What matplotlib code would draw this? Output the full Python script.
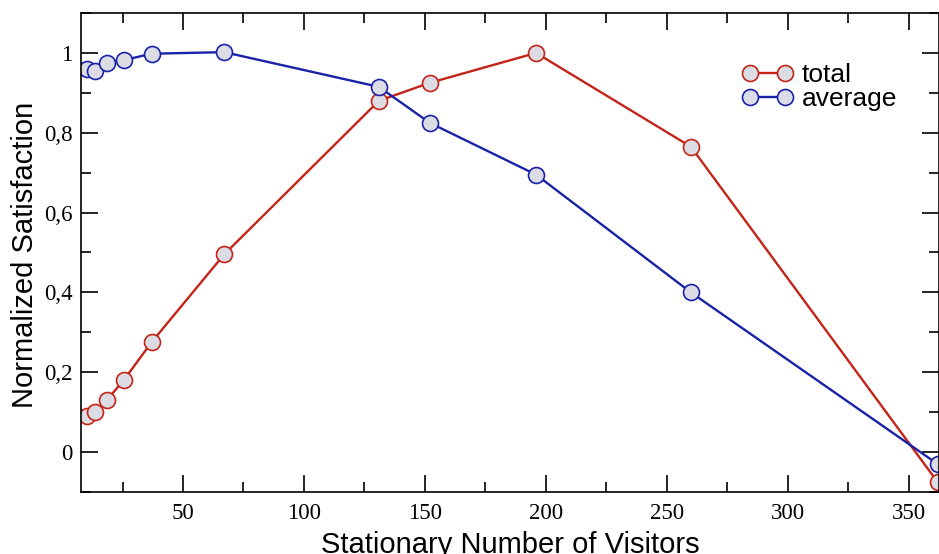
import matplotlib
matplotlib.use("Agg")
import matplotlib.pyplot as plt
from matplotlib.ticker import MultipleLocator, FuncFormatter

# Stationary number of visitors and normalized satisfaction
visitors = [10.5, 13.5, 18.5, 25.5, 37, 67, 131, 152, 196, 260, 362]
total = [0.09, 0.10, 0.13, 0.18, 0.275, 0.495, 0.88, 0.925, 1.0, 0.765, -0.075]
average = [0.96, 0.955, 0.975, 0.982, 0.998, 1.002, 0.915, 0.825, 0.695, 0.40, -0.03]

red = "#c42418"
blue = "#1a22a8"
face = "#dcdce4"


def comma_fmt(v, pos):
    if abs(v) < 1e-9:
        return "0"
    return f"{v:.1f}".rstrip("0").rstrip(".").replace(".", ",")


fig = plt.figure(figsize=(9.39, 5.54), dpi=100)
ax = fig.add_axes([0.0863, 0.112, 0.9137, 0.8645])

ax.plot(visitors, total, color=red, lw=1.7, marker="o", ms=11.5,
        mfc=face, mec=red, mew=1.2, label="total")
ax.plot(visitors, average, color=blue, lw=1.7, marker="o", ms=11.5,
        mfc=face, mec=blue, mew=1.2, label="average")

ax.set_xlim(7.85, 362.6)
ax.set_ylim(-0.1, 1.1)

ax.xaxis.set_major_locator(MultipleLocator(50))
ax.xaxis.set_minor_locator(MultipleLocator(25))
ax.yaxis.set_major_locator(MultipleLocator(0.2))
ax.yaxis.set_minor_locator(MultipleLocator(0.1))
ax.yaxis.set_major_formatter(FuncFormatter(comma_fmt))

ax.tick_params(which="both", direction="in", top=True, right=True, width=1.2)
ax.tick_params(which="major", length=12, pad=6)
ax.tick_params(axis="x", which="major", pad=8)
ax.tick_params(which="minor", length=7)
for lab in ax.get_xticklabels() + ax.get_yticklabels():
    lab.set_family("Liberation Serif")
    lab.set_fontsize(16.5)
for sp in ax.spines.values():
    sp.set_linewidth(1.2)

ax.set_xlabel("Stationary Number of Visitors", family="Liberation Sans", fontsize=21, labelpad=5)
ax.set_ylabel("Normalized Satisfaction", family="Liberation Sans", fontsize=21)
ax.yaxis.set_label_coords(-0.049, 0.496)

ax.legend(loc="upper left", bbox_to_anchor=(0.77, 0.895), frameon=False, numpoints=2,
          borderaxespad=0, borderpad=0,
          handlelength=1.95, handletextpad=0.33, labelspacing=0.0,
          prop={"family": "Liberation Sans", "size": 19})

fig.savefig("out.png", dpi=100)
